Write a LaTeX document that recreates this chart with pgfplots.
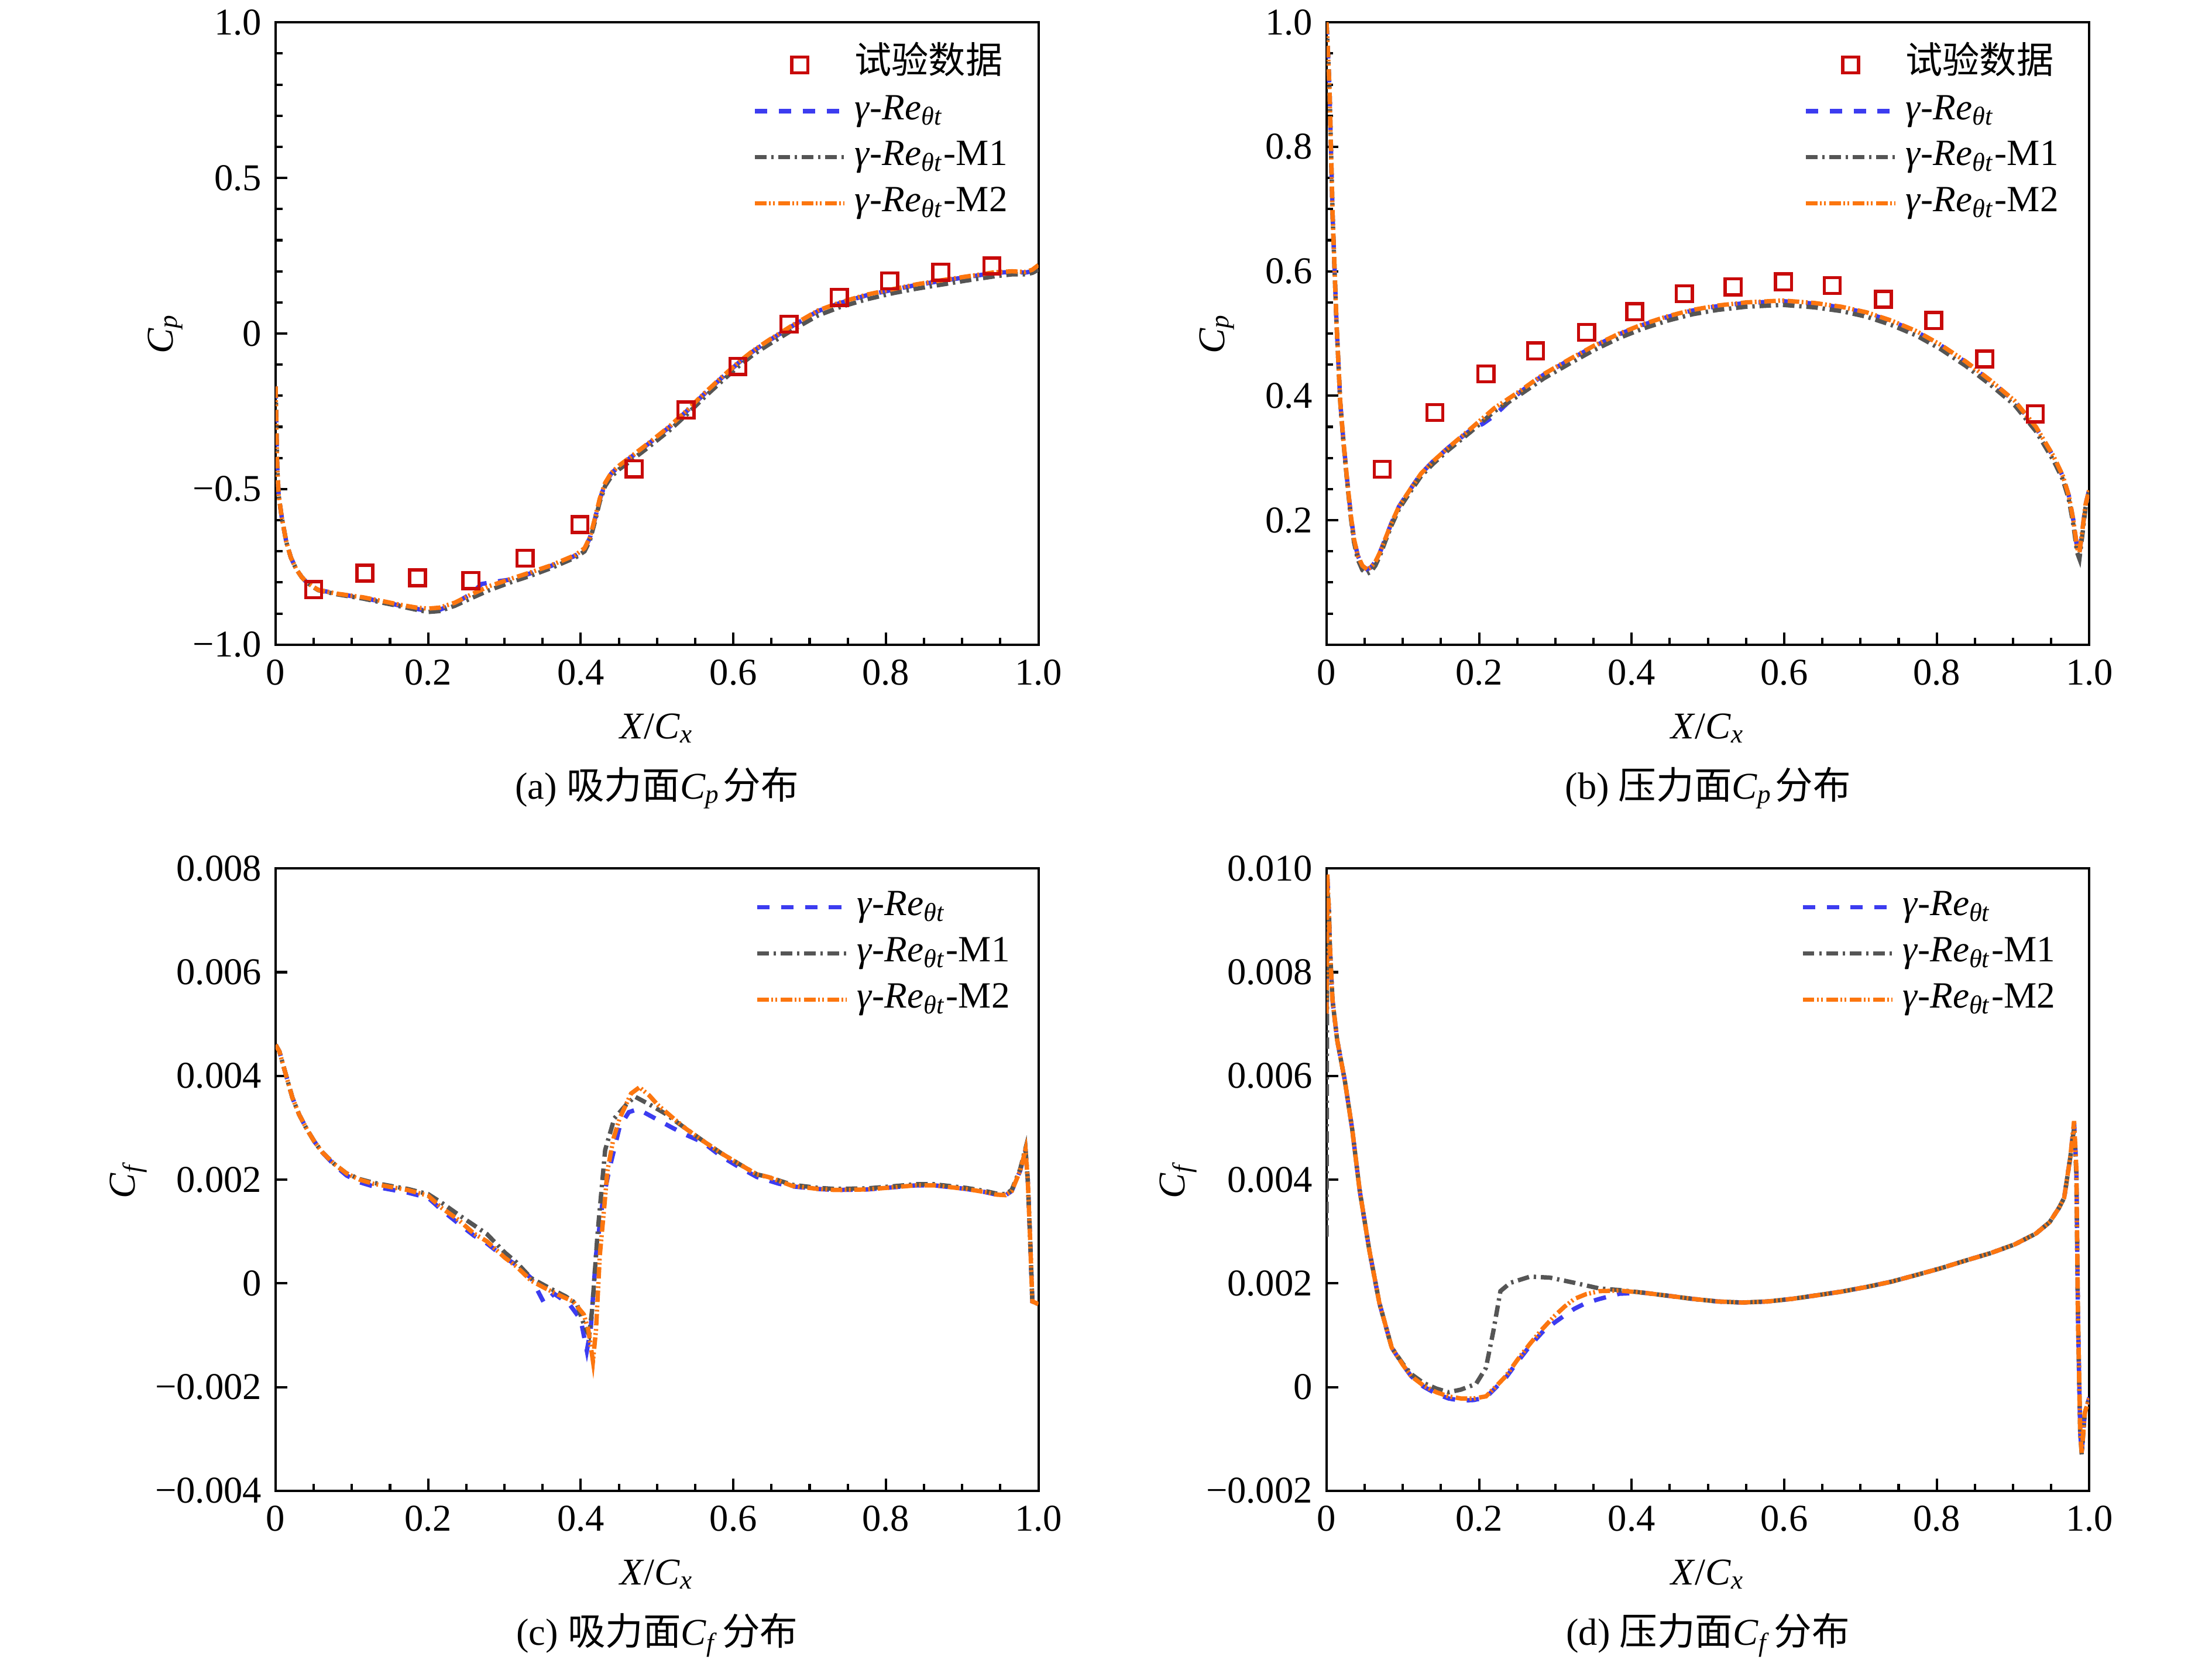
\documentclass[border=0pt]{standalone}
\usepackage{fontspec}
\setmainfont{Liberation Serif}
\newfontfamily\cjk{Noto Sans CJK SC}
\usepackage{pgfplots}
\pgfplotsset{compat=1.18}
\definecolor{cblue}{RGB}{60,60,240}
\definecolor{cgray}{RGB}{85,85,85}
\definecolor{corange}{RGB}{252,118,15}
\definecolor{cred}{RGB}{200,10,10}
\newcommand{\fs}{\fontsize{9.5pt}{11pt}\selectfont}
\newcommand{\Ret}{\textit{γ}-\textit{Re}\textsubscript{\textit{θt}}}
\pgfplotsset{
  myaxis/.style={
    scale only axis, width=191.7pt, height=156.4pt,
    xmin=0, xmax=1,
    xtick={0,0.2,0.4,0.6,0.8,1}, xticklabels={0,0.2,0.4,0.6,0.8,1.0},
    minor xtick={0.05,0.1,0.15,0.25,0.3,0.35,0.45,0.5,0.55,0.65,0.7,0.75,0.85,0.9,0.95},
    tick align=inside, xtick pos=bottom, ytick pos=left,
    major tick length=3pt, minor tick length=1.7pt,
    every tick/.style={black, line width=0.6pt},
    axis line style={line width=0.6pt},
    scaled ticks=false,
    tick label style={font=\fs},
    xticklabel style={yshift=-0.3pt},
    label style={font=\fs},
    xlabel={\textit{X}/\textit{C}\textsubscript{\textit{x}}},
    xlabel style={at={(axis description cs:0.5,0)}, anchor=base, yshift=-23.7pt},
    title style={at={(axis description cs:0.5,0)}, anchor=base, yshift=-44.8pt, font=\fs},
    legend cell align=left,
    legend style={draw=none, fill=none, font=\fontsize{9.3pt}{11pt}\selectfont,
      row sep=0pt, inner sep=0pt,
      nodes={inner ysep=0.5pt, inner xsep=2pt, text height=7.4pt, text depth=3.2pt},
      /tikz/every even column/.append style={column sep=0pt}},
    legend image code/.code={\draw[#1] (0pt,0pt) -- (22.5pt,0pt);},
  },
  sexp/.style={only marks, mark=square, mark size=2pt, mark options={cred, line width=0.8pt},
    legend image code/.code={\draw[#1] plot coordinates {(11.25pt,0pt)};}},
  sblue/.style={cblue, line width=1.1pt, dash pattern=on 3.1pt off 2.9pt},
  sgray/.style={cgray, line width=1.1pt, dash pattern=on 2.9pt off 1.2pt on 0.6pt off 1.2pt},
  sorange/.style={corange, line width=1.1pt, dash pattern=on 2.9pt off 0.6pt on 0.45pt off 0.6pt on 0.45pt off 0.9pt},
}
\begin{document}
\begin{tikzpicture}
\path[use as bounding box] (0pt,0pt) rectangle (555.88pt,418.82pt);

% (a)
\begin{axis}[myaxis, at={(69.26pt,256.8pt)}, anchor=south west,
  ymin=-1, ymax=1, ytick={-1,-0.5,0,0.5,1}, yticklabels={−1.0,−0.5,0,0.5,1.0},
  minor ytick={-0.9,-0.8,-0.7,-0.6,-0.4,-0.3,-0.2,-0.1,0.1,0.2,0.3,0.4,0.6,0.7,0.8,0.9},
  ylabel={\textit{C}\textsubscript{\textit{p}}},
  ylabel style={at={(axis description cs:0,0.5)}, anchor=base, yshift=25.8pt},
  title={(a) {\cjk 吸力面}\textit{C}\textsubscript{\textit{p}}\kern0.6pt{\cjk 分布}},
  legend style={at={(0.971,0.970)}, anchor=north east}]
\addplot[sexp] coordinates {(0.050,-0.823) (0.117,-0.770) (0.186,-0.785) (0.256,-0.794) (0.327,-0.722) (0.399,-0.614) (0.470,-0.435) (0.538,-0.246) (0.606,-0.106) (0.673,0.030) (0.739,0.116) (0.805,0.169) (0.872,0.197) (0.939,0.217)};
\addlegendentry{{\cjk 试验数据}}
\addplot[sblue] coordinates {(0,-0.17) (0.002,-0.42) (0.004,-0.52) (0.008,-0.59) (0.014,-0.67) (0.02,-0.72) (0.027,-0.757) (0.034,-0.782) (0.04,-0.798) (0.048,-0.812) (0.056,-0.824) (0.08,-0.836) (0.115,-0.85) (0.14,-0.862) (0.166,-0.876) (0.185,-0.885) (0.2,-0.892) (0.215,-0.888) (0.235,-0.868) (0.257,-0.835) (0.27,-0.805) (0.29,-0.797) (0.31,-0.79) (0.335,-0.77) (0.36,-0.748) (0.393,-0.714) (0.405,-0.692) (0.412,-0.657) (0.418,-0.602) (0.425,-0.533) (0.432,-0.483) (0.44,-0.45) (0.45,-0.427) (0.464,-0.401) (0.49,-0.352) (0.516,-0.301) (0.54,-0.247) (0.562,-0.194) (0.585,-0.142) (0.607,-0.094) (0.626,-0.057) (0.646,-0.024) (0.678,0.025) (0.711,0.072) (0.74,0.098) (0.775,0.123) (0.81,0.141) (0.84,0.156) (0.87,0.168) (0.905,0.181) (0.943,0.195) (0.965,0.198) (0.983,0.196) (0.992,0.2) (1,0.208)};
\addlegendentry{\Ret}
\addplot[sgray] coordinates {(0,-0.17) (0.002,-0.42) (0.004,-0.52) (0.008,-0.59) (0.014,-0.67) (0.02,-0.72) (0.027,-0.757) (0.034,-0.782) (0.04,-0.798) (0.048,-0.813) (0.056,-0.825) (0.08,-0.838) (0.115,-0.852) (0.14,-0.865) (0.166,-0.878) (0.185,-0.888) (0.2,-0.895) (0.215,-0.892) (0.235,-0.875) (0.257,-0.85) (0.28,-0.825) (0.31,-0.798) (0.335,-0.778) (0.36,-0.755) (0.393,-0.72) (0.405,-0.7) (0.412,-0.665) (0.418,-0.61) (0.425,-0.54) (0.432,-0.49) (0.44,-0.46) (0.45,-0.437) (0.464,-0.412) (0.49,-0.363) (0.516,-0.312) (0.54,-0.258) (0.562,-0.205) (0.585,-0.153) (0.607,-0.105) (0.626,-0.068) (0.646,-0.036) (0.678,0.012) (0.711,0.058) (0.74,0.085) (0.775,0.11) (0.81,0.13) (0.84,0.144) (0.87,0.156) (0.905,0.17) (0.943,0.184) (0.965,0.19) (0.983,0.19) (0.992,0.195) (1,0.205)};
\addlegendentry{\Ret-M1}
\addplot[sorange] coordinates {(0,-0.17) (0.002,-0.42) (0.004,-0.52) (0.008,-0.59) (0.014,-0.67) (0.02,-0.72) (0.027,-0.757) (0.034,-0.782) (0.04,-0.798) (0.048,-0.812) (0.056,-0.824) (0.08,-0.836) (0.115,-0.848) (0.14,-0.86) (0.166,-0.873) (0.185,-0.881) (0.2,-0.884) (0.215,-0.881) (0.235,-0.865) (0.257,-0.838) (0.28,-0.812) (0.31,-0.787) (0.335,-0.767) (0.36,-0.746) (0.393,-0.712) (0.405,-0.69) (0.412,-0.655) (0.418,-0.6) (0.425,-0.53) (0.432,-0.48) (0.44,-0.448) (0.45,-0.425) (0.464,-0.399) (0.49,-0.35) (0.516,-0.299) (0.54,-0.245) (0.562,-0.192) (0.585,-0.14) (0.607,-0.092) (0.626,-0.055) (0.646,-0.022) (0.678,0.027) (0.711,0.074) (0.74,0.1) (0.775,0.125) (0.81,0.143) (0.84,0.158) (0.87,0.17) (0.905,0.183) (0.943,0.197) (0.965,0.2) (0.983,0.198) (0.992,0.205) (1,0.22)};
\addlegendentry{\Ret-M2}
\end{axis}

% (b)
\begin{axis}[myaxis, at={(333.35pt,256.8pt)}, anchor=south west,
  ymin=0, ymax=1, ytick={0.2,0.4,0.6,0.8,1}, yticklabels={0.2,0.4,0.6,0.8,1.0},
  minor ytick={0.05,0.1,0.15,0.25,0.3,0.35,0.45,0.5,0.55,0.65,0.7,0.75,0.85,0.9,0.95},
  ylabel={\textit{C}\textsubscript{\textit{p}}},
  ylabel style={at={(axis description cs:0,0.5)}, anchor=base, yshift=25.6pt},
  title={(b) {\cjk 压力面}\textit{C}\textsubscript{\textit{p}}\kern0.6pt{\cjk 分布}},
  legend style={at={(0.971,0.970)}, anchor=north east}]
\addplot[sexp] coordinates {(0.073,0.282) (0.142,0.373) (0.209,0.435) (0.274,0.472) (0.341,0.502) (0.404,0.535) (0.469,0.564) (0.533,0.575) (0.599,0.583) (0.663,0.577) (0.730,0.555) (0.796,0.521) (0.863,0.459) (0.929,0.371)};
\addlegendentry{{\cjk 试验数据}}
\addplot[sblue] coordinates {(0,1.0) (0.002,0.95) (0.004,0.89) (0.008,0.69) (0.013,0.52) (0.018,0.39) (0.022,0.33) (0.027,0.265) (0.032,0.207) (0.036,0.17) (0.041,0.143) (0.047,0.127) (0.053,0.121) (0.058,0.124) (0.064,0.133) (0.07,0.148) (0.077,0.17) (0.085,0.195) (0.095,0.222) (0.11,0.25) (0.124,0.275) (0.14,0.295) (0.16,0.317) (0.189,0.345) (0.205,0.355) (0.22,0.368) (0.237,0.388) (0.254,0.406) (0.285,0.434) (0.319,0.458) (0.35,0.479) (0.384,0.499) (0.415,0.514) (0.448,0.527) (0.48,0.537) (0.513,0.544) (0.55,0.549) (0.598,0.552) (0.64,0.548) (0.675,0.542) (0.708,0.533) (0.74,0.52) (0.773,0.503) (0.805,0.481) (0.838,0.454) (0.87,0.424) (0.902,0.391) (0.93,0.349) (0.953,0.302) (0.965,0.271) (0.973,0.24) (0.979,0.2) (0.984,0.155) (0.987,0.147) (0.991,0.185) (0.995,0.225) (1,0.25)};
\addlegendentry{\Ret}
\addplot[sgray] coordinates {(0,1.0) (0.002,0.95) (0.004,0.89) (0.008,0.69) (0.013,0.52) (0.018,0.39) (0.022,0.328) (0.027,0.262) (0.032,0.203) (0.036,0.165) (0.041,0.137) (0.047,0.12) (0.053,0.114) (0.058,0.117) (0.064,0.127) (0.07,0.143) (0.077,0.166) (0.085,0.191) (0.095,0.218) (0.11,0.246) (0.124,0.271) (0.14,0.291) (0.16,0.313) (0.189,0.342) (0.22,0.375) (0.254,0.402) (0.285,0.428) (0.319,0.452) (0.35,0.473) (0.384,0.493) (0.415,0.508) (0.448,0.521) (0.48,0.531) (0.513,0.538) (0.55,0.543) (0.598,0.546) (0.64,0.542) (0.675,0.536) (0.708,0.527) (0.74,0.514) (0.773,0.497) (0.805,0.475) (0.838,0.448) (0.87,0.418) (0.902,0.385) (0.93,0.343) (0.953,0.296) (0.965,0.266) (0.973,0.234) (0.979,0.193) (0.984,0.148) (0.987,0.138) (0.991,0.178) (0.995,0.22) (1,0.245)};
\addlegendentry{\Ret-M1}
\addplot[sorange] coordinates {(0,1.0) (0.002,0.95) (0.004,0.89) (0.008,0.69) (0.013,0.52) (0.018,0.39) (0.022,0.33) (0.027,0.265) (0.032,0.207) (0.036,0.17) (0.041,0.143) (0.047,0.127) (0.053,0.121) (0.058,0.124) (0.064,0.133) (0.07,0.148) (0.077,0.17) (0.085,0.195) (0.095,0.222) (0.11,0.25) (0.124,0.275) (0.14,0.295) (0.16,0.317) (0.189,0.347) (0.22,0.38) (0.254,0.408) (0.285,0.435) (0.319,0.459) (0.35,0.48) (0.384,0.5) (0.415,0.515) (0.448,0.528) (0.48,0.538) (0.513,0.545) (0.55,0.55) (0.598,0.553) (0.64,0.549) (0.675,0.543) (0.708,0.534) (0.74,0.521) (0.773,0.504) (0.805,0.482) (0.838,0.455) (0.87,0.425) (0.902,0.392) (0.93,0.35) (0.953,0.303) (0.965,0.272) (0.973,0.24) (0.979,0.2) (0.984,0.155) (0.987,0.148) (0.991,0.185) (0.995,0.225) (1,0.25)};
\addlegendentry{\Ret-M2}
\end{axis}

% (c)
\begin{axis}[myaxis, at={(69.26pt,44.15pt)}, anchor=south west,
  ymin=-0.004, ymax=0.008, ytick={-0.004,-0.002,0,0.002,0.004,0.006,0.008},
  yticklabels={−0.004,−0.002,0,0.002,0.004,0.006,0.008},
  ylabel={\textit{C}\textsubscript{\textit{f}}},
  ylabel style={at={(axis description cs:0,0.5)}, anchor=base, yshift=35.4pt},
  title={(c) {\cjk 吸力面}\textit{C}\textsubscript{\textit{f}}\kern0.8pt{\cjk 分布}},
  legend style={at={(0.974,0.976)}, anchor=north east}]
\addplot[sblue] coordinates {(0,0.0046) (0.005,0.00447) (0.012,0.0041) (0.022,0.00358) (0.031,0.00325) (0.041,0.00297) (0.051,0.00273) (0.061,0.00253) (0.077,0.00228) (0.093,0.00208) (0.11,0.00195) (0.128,0.00187) (0.15,0.00181) (0.173,0.00175) (0.2,0.00165) (0.218,0.00141) (0.24,0.00115) (0.26,0.00092) (0.277,0.00077) (0.3,0.0005) (0.316,0.00035) (0.335,0.0001) (0.352,-0.00038) (0.365,-0.0002) (0.385,-0.0004) (0.4,-0.0007) (0.408,-0.0013) (0.413,-0.0009) (0.42,0.00054) (0.428,0.0015) (0.437,0.00217) (0.451,0.00302) (0.463,0.0033) (0.475,0.00336) (0.495,0.0032) (0.52,0.003) (0.54,0.00285) (0.56,0.00272) (0.584,0.00245) (0.61,0.00222) (0.631,0.00205) (0.66,0.00192) (0.677,0.00187) (0.711,0.00182) (0.733,0.0018) (0.775,0.00181) (0.8,0.00184) (0.84,0.00189) (0.863,0.00189) (0.905,0.00182) (0.93,0.00176) (0.945,0.00171) (0.957,0.0017) (0.965,0.00178) (0.976,0.00217) (0.983,0.00257) (0.986,0.002) (0.989,0.0009) (0.992,-0.00035) (1,-0.0004)};
\addlegendentry{\Ret}
\addplot[sgray] coordinates {(0,0.0046) (0.005,0.00447) (0.012,0.0041) (0.022,0.00358) (0.031,0.00325) (0.041,0.00297) (0.051,0.00273) (0.061,0.00253) (0.077,0.0023) (0.093,0.00212) (0.11,0.00201) (0.128,0.00194) (0.15,0.00188) (0.173,0.00182) (0.2,0.00172) (0.218,0.00155) (0.24,0.00132) (0.26,0.00112) (0.277,0.00095) (0.3,0.0006) (0.316,0.0004) (0.335,0.0001) (0.36,-0.0001) (0.38,-0.00025) (0.395,-0.0004) (0.405,-0.00083) (0.411,-0.001) (0.415,-0.0005) (0.422,0.00095) (0.432,0.00257) (0.444,0.00318) (0.46,0.00345) (0.471,0.0036) (0.49,0.00345) (0.51,0.00328) (0.538,0.00298) (0.56,0.00275) (0.584,0.00251) (0.61,0.00228) (0.631,0.0021) (0.646,0.00205) (0.677,0.0019) (0.711,0.00184) (0.733,0.00182) (0.775,0.00183) (0.8,0.00186) (0.84,0.00191) (0.863,0.00191) (0.905,0.00184) (0.93,0.00178) (0.945,0.00173) (0.957,0.00172) (0.965,0.0018) (0.976,0.0022) (0.983,0.0026) (0.986,0.002) (0.989,0.0009) (0.992,-0.00035) (1,-0.0004)};
\addlegendentry{\Ret-M1}
\addplot[sorange] coordinates {(0,0.0046) (0.005,0.00447) (0.012,0.0041) (0.022,0.00358) (0.031,0.00325) (0.041,0.00297) (0.051,0.00273) (0.061,0.00253) (0.077,0.0023) (0.093,0.00212) (0.11,0.002) (0.128,0.00192) (0.15,0.00186) (0.173,0.0018) (0.2,0.00169) (0.218,0.00145) (0.24,0.00122) (0.26,0.00096) (0.277,0.00081) (0.3,0.0005) (0.316,0.00032) (0.335,0.00005) (0.354,-0.0001) (0.375,-0.00025) (0.39,-0.00035) (0.404,-0.0006) (0.41,-0.0009) (0.416,-0.0015) (0.42,-0.0009) (0.425,0.00054) (0.431,0.0015) (0.435,0.00217) (0.443,0.0028) (0.451,0.00318) (0.466,0.00366) (0.477,0.00378) (0.49,0.00362) (0.501,0.00344) (0.52,0.0032) (0.538,0.00298) (0.56,0.00275) (0.584,0.00251) (0.61,0.00228) (0.631,0.0021) (0.646,0.00205) (0.677,0.00188) (0.711,0.00182) (0.733,0.0018) (0.775,0.00181) (0.8,0.00184) (0.84,0.00189) (0.863,0.00189) (0.905,0.00182) (0.93,0.00176) (0.945,0.00171) (0.957,0.0017) (0.965,0.00178) (0.976,0.00217) (0.983,0.00257) (0.986,0.002) (0.989,0.0009) (0.992,-0.00035) (1,-0.0004)};
\addlegendentry{\Ret-M2}
\end{axis}

% (d)
\begin{axis}[myaxis, at={(333.35pt,44.15pt)}, anchor=south west,
  ymin=-0.002, ymax=0.010, ytick={-0.002,0,0.002,0.004,0.006,0.008,0.010},
  yticklabels={−0.002,0,0.002,0.004,0.006,0.008,0.010},
  ylabel={\textit{C}\textsubscript{\textit{f}}},
  ylabel style={at={(axis description cs:0,0.5)}, anchor=base, yshift=35.6pt},
  title={(d) {\cjk 压力面}\textit{C}\textsubscript{\textit{f}}\kern0.8pt{\cjk 分布}},
  legend style={at={(0.967,0.976)}, anchor=north east}]
\addplot[sblue] coordinates {(0,0.0072) (0.001,0.0099) (0.003,0.0092) (0.0045,0.00848) (0.0078,0.00747) (0.014,0.00669) (0.024,0.00591) (0.0337,0.00497) (0.0434,0.0038) (0.0561,0.00264) (0.0693,0.00162) (0.0855,0.00076) (0.1,0.00043) (0.111,0.00021) (0.127,0.00001) (0.144,-0.00013) (0.16,-0.00022) (0.176,-0.00026) (0.193,-0.00025) (0.209,-0.0002) (0.222,-0.00001) (0.235,0.00018) (0.25,0.00048) (0.267,0.0008) (0.283,0.00106) (0.2995,0.00125) (0.312,0.00138) (0.325,0.00151) (0.34,0.00162) (0.358,0.0017) (0.384,0.0018) (0.415,0.00182) (0.448,0.00176) (0.48,0.0017) (0.513,0.00165) (0.545,0.00163) (0.578,0.00165) (0.61,0.0017) (0.643,0.00177) (0.675,0.00184) (0.708,0.00193) (0.74,0.00203) (0.773,0.00216) (0.805,0.00229) (0.838,0.00244) (0.87,0.00258) (0.902,0.00275) (0.93,0.00296) (0.948,0.00318) (0.96,0.00345) (0.967,0.00365) (0.975,0.00443) (0.98,0.0051) (0.983,0.0042) (0.985,0.00146) (0.988,-0.00088) (0.99,-0.00127) (0.994,-0.0005) (1,-0.0002)};
\addlegendentry{\Ret}
\addplot[sgray] coordinates {(0,0.0029) (0.001,0.0096) (0.003,0.0093) (0.0045,0.00848) (0.0078,0.00747) (0.014,0.00669) (0.024,0.00591) (0.0337,0.00497) (0.0434,0.0038) (0.0561,0.00264) (0.0693,0.00162) (0.0855,0.00076) (0.1,0.00045) (0.111,0.00025) (0.127,0.00008) (0.144,-0.00003) (0.16,-0.0001) (0.176,-0.00005) (0.196,0.00006) (0.209,0.00037) (0.2186,0.00107) (0.228,0.00185) (0.241,0.00201) (0.267,0.00213) (0.293,0.00211) (0.325,0.00201) (0.358,0.0019) (0.384,0.00187) (0.415,0.00182) (0.448,0.00176) (0.48,0.0017) (0.513,0.00165) (0.545,0.00163) (0.578,0.00165) (0.61,0.0017) (0.643,0.00177) (0.675,0.00184) (0.708,0.00193) (0.74,0.00203) (0.773,0.00216) (0.805,0.00229) (0.838,0.00244) (0.87,0.00258) (0.902,0.00275) (0.93,0.00296) (0.948,0.00318) (0.96,0.00345) (0.967,0.00365) (0.975,0.00443) (0.98,0.005) (0.983,0.0041) (0.985,0.00146) (0.988,-0.00088) (0.99,-0.0013) (0.994,-0.0005) (1,-0.0002)};
\addlegendentry{\Ret-M1}
\addplot[sorange] coordinates {(0,0.0072) (0.001,0.0099) (0.003,0.0092) (0.0045,0.00848) (0.0078,0.00747) (0.014,0.00669) (0.024,0.00591) (0.0337,0.00497) (0.0434,0.0038) (0.0561,0.00264) (0.0693,0.00162) (0.0855,0.00076) (0.1,0.00043) (0.111,0.00021) (0.127,0.00003) (0.144,-0.0001) (0.16,-0.00018) (0.176,-0.00022) (0.193,-0.00022) (0.209,-0.00018) (0.222,0.00001) (0.235,0.00021) (0.25,0.00052) (0.267,0.00084) (0.283,0.00112) (0.2995,0.00138) (0.312,0.00155) (0.325,0.0017) (0.34,0.00179) (0.358,0.00185) (0.384,0.00186) (0.415,0.00182) (0.448,0.00176) (0.48,0.0017) (0.513,0.00165) (0.545,0.00163) (0.578,0.00165) (0.61,0.0017) (0.643,0.00177) (0.675,0.00184) (0.708,0.00193) (0.74,0.00203) (0.773,0.00216) (0.805,0.00229) (0.838,0.00244) (0.87,0.00258) (0.902,0.00275) (0.93,0.00296) (0.948,0.00318) (0.96,0.00345) (0.967,0.00365) (0.975,0.00443) (0.98,0.00513) (0.983,0.0042) (0.985,0.00146) (0.988,-0.00088) (0.99,-0.00127) (0.994,-0.0005) (1,-0.0002)};
\addlegendentry{\Ret-M2}
\end{axis}
\end{tikzpicture}
\end{document}
